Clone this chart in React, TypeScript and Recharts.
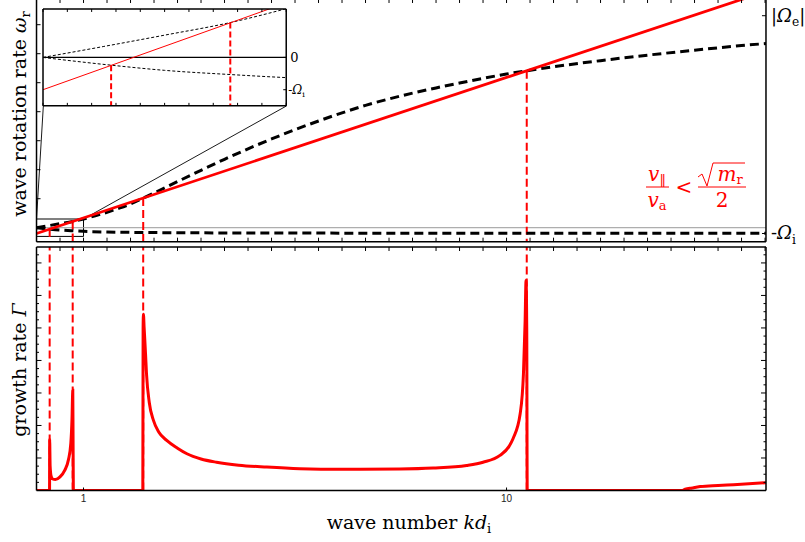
import React from 'react';
import { LineChart, Line, XAxis, YAxis, ReferenceLine, ReferenceArea } from 'recharts';

// upper (electron) branch, omega_r / Omega_i vs k d_i
const whistlerK = [0, 0.25, 0.5, 0.77, 1, 1.25, 1.5, 1.75, 2, 2.27, 2.5, 3, 3.5, 4, 4.5, 5, 5.5, 6, 6.5, 7, 7.5, 8, 8.5, 9, 9.5, 10, 10.43, 11, 12, 13, 14, 15, 15.52];
const whistlerOmega = [0, 0.34, 0.69, 1.08, 1.51, 2.05, 2.66, 3.34, 4.1, 5.11, 5.98, 7.95, 9.9, 11.8, 13.6, 15.3, 16.9, 18.4, 19.8, 21.1, 22.2, 23.2, 24.1, 24.95, 25.75, 26.5, 27.06, 27.75, 28.8, 29.75, 30.6, 31.4, 31.75];

// lower (ion cyclotron) branch
const ionK = [0, 0.1, 0.28, 0.5, 0.77, 1, 1.5, 2, 3, 4, 6, 9, 12, 15.52];
const ionOmega = [0, -0.09, -0.24, -0.4, -0.53, -0.625, -0.74, -0.8, -0.87, -0.9, -0.93, -0.95, -0.96, -0.97];

// beam line (red)
const beamK = [0, 15.52];
const beamOmega = [-1, 40.75];

// resonances (red dashed verticals)
const resonanceK = [0.28, 0.77, 2.27, 10.43];
const resonanceOmega = [-0.24, 1.08, 5.11, 27.06];

// growth rate
const growthK = [0, 0.278, 0.28, 0.29, 0.31, 0.35, 0.4, 0.5, 0.6, 0.68, 0.73, 0.755, 0.772, 0.778, 0.785, 2.262, 2.268, 2.275, 2.29, 2.32, 2.34, 2.4, 2.49, 2.6, 2.77, 3.0, 3.2, 3.5, 3.83, 4.3, 4.9, 5.6, 6.5, 7.73, 8.44, 9.15, 9.5, 9.86, 10.05, 10.14, 10.29, 10.36, 10.395, 10.415, 10.43, 10.44, 13.73, 13.8, 13.95, 14.12, 14.5, 14.83, 15.52];
const growthGamma = [0, 0, 1.57, 0.75, 0.45, 0.35, 0.34, 0.42, 0.62, 0.95, 1.45, 2.2, 3.08, 1.6, 0, 0, 5.0, 5.42, 5.0, 4.2, 3.6, 2.7, 2.15, 1.8, 1.54, 1.3, 1.13, 0.97, 0.87, 0.78, 0.72, 0.67, 0.65, 0.66, 0.69, 0.77, 0.87, 1.08, 1.35, 1.6, 2.36, 3.6, 5.2, 6.46, 5.0, 0, 0, 0.04, 0.08, 0.12, 0.155, 0.18, 0.24];

// tick values / labels
const kLabelTicks = [1, 10];
const kLabels = ['1', '10'];
const omegaLeftTicks = [0, 5, 10, 15, 20, 25, 30, 35];
const OMEGA_E = 36.55;
const omegaRightTicks = [OMEGA_E, -1];
const omegaRightLabels = [['|', 'Ω', 'e', '|'], ['-', 'Ω', 'i', '']];
const insetRightTicks = [0, -1];

const K_MAX = 15.52;
const W_MIN = -2.41;
const W_MAX = 39.43;
const G_MAX = 7.49;

const halfTicks = Array.from({ length: 32 }, (_, i) => i * 0.5);
const tenthTicks = Array.from({ length: 11 }, (_, i) => i * 0.1);
const quarterTicks = Array.from({ length: 29 }, (_, i) => (i + 1) * 0.25);

// layout (px)
const FRAME_L = 36.5;
const FRAME_R = 766;
const TOP_Y0 = -1;
const TOP_Y1 = 241.7;
const BOT_Y0 = 246.5;
const BOT_Y1 = 490;

// inset box, in the top panel's data units
const INSET = { k0: 0.145, k1: 5.32, w0: 21.0, w1: 37.7 };

const pxK = (k: number) => FRAME_L + (k / K_MAX) * (FRAME_R - FRAME_L);
const pyW = (w: number) => TOP_Y0 + ((W_MAX - w) / (W_MAX - W_MIN)) * (TOP_Y1 - TOP_Y0);

const SERIF = '"DejaVu Serif", serif';
const RED = '#ff0000';

const toPoints = (ks: number[], vs: number[]) => ks.map((k, i) => ({ k, v: vs[i] }));
const whistler = toPoints(whistlerK, whistlerOmega);
const ion = toPoints(ionK, ionOmega);
const beam = toPoints(beamK, beamOmega);
const growth = toPoints(growthK, growthGamma);

const frameLine = { stroke: '#000', strokeWidth: 1.5 };

// axes get a 1px band (a zero size axis is not drawn), margins take it back
const A = 1;

type Side = 'top' | 'bottom' | 'left' | 'right';

// frame ticks point into the plot; tickSize/tickMargin are 0 so (x, y) sit on the frame
const makeTick = (side: Side, len: (v: number) => number, label?: (v: number, x: number, y: number) => React.ReactNode) =>
  (props: any) => {
    const { x, y, payload } = props;
    const l = len(payload.value);
    const x2 = side === 'left' ? x + l : side === 'right' ? x - l : x;
    const y2 = side === 'top' ? y + l : side === 'bottom' ? y - l : y;
    return (
      <g>
        <line x1={x} y1={y} x2={x2} y2={y2} stroke="#000" strokeWidth={1} />
        {label ? label(payload.value, x, y) : null}
      </g>
    );
  };

const OmegaLabel = ({ x, y, parts, size }: any) => (
  <text x={x} y={y} dy={size * 0.33} fontFamily={SERIF} fontSize={size} fill="#000">
    <tspan>{parts[0]}</tspan>
    <tspan fontStyle="italic">{parts[1]}</tspan>
    <tspan fontSize={size * 0.68} dy={size * 0.25}>{parts[2]}</tspan>
    <tspan dy={-size * 0.25}>{parts[3]}</tspan>
  </text>
);

const fixed = (n: number) => () => n;
const majorMinor = (v: number) => (Math.abs(v - Math.round(v)) < 1e-6 ? 5 : 2.5);

const tickTopHalf = makeTick('top', fixed(4));
const tickBottomHalf = makeTick('bottom', fixed(4));
const tickLeftOmega = makeTick('left', fixed(4));
const tickRightOmega = makeTick('right', fixed(4), (v, x, y) => (
  <OmegaLabel x={x + 5} y={y} parts={omegaRightLabels[omegaRightTicks.indexOf(v)]} size={18} />
));
const tickInsetTop = makeTick('top', fixed(3));
const tickInsetBottom = makeTick('bottom', fixed(3));
const tickInsetRight = makeTick('right', fixed(3), (v, x, y) =>
  v === 0 ? (
    <text x={x + 4} y={y} dy={4.5} fontFamily={SERIF} fontSize={13} fill="#000">0</text>
  ) : (
    <OmegaLabel x={x + 2} y={y} parts={['-', 'Ω', 'i', '']} size={12} />
  ));
const tickBottomK = makeTick('bottom', fixed(3), (v, x, y) => (
  <text x={x} y={y + 11} textAnchor="middle" fontFamily='"Liberation Sans", sans-serif' fontSize={10} fill="#222">
    {kLabels[kLabelTicks.indexOf(v)]}
  </text>
));
const tickLeftGamma = makeTick('left', majorMinor);
const tickRightGamma = makeTick('right', majorMinor);

const axisCommon = { interval: 0 as const, tickSize: 0, tickMargin: 0, tickLine: false, axisLine: frameLine, allowDataOverflow: true };

const TopPanel = () => {
  const h = 10 + (TOP_Y1 - TOP_Y0) + 15;
  return (
    <div style={{ position: 'absolute', left: 0, top: TOP_Y0 - 10 }}>
      <LineChart width={805} height={h}
        margin={{ top: 10 - A, right: 805 - FRAME_R - A, bottom: 15 - A, left: FRAME_L - A }}>
        <XAxis type="number" dataKey="k" domain={[0, K_MAX]} ticks={halfTicks} tick={tickBottomHalf} height={A} {...axisCommon} />
        <XAxis xAxisId="top" orientation="top" type="number" dataKey="k" domain={[0, K_MAX]} ticks={halfTicks}
          tick={tickTopHalf} height={A} {...axisCommon} />
        <YAxis type="number" domain={[W_MIN, W_MAX]} ticks={omegaLeftTicks} tick={tickLeftOmega} width={A} {...axisCommon} />
        <YAxis yAxisId="right" orientation="right" type="number" domain={[W_MIN, W_MAX]} ticks={omegaRightTicks}
          tick={tickRightOmega} width={A} {...axisCommon} />

        <ReferenceLine y={0} stroke="#9a9a9a" strokeWidth={1} />
        <ReferenceArea x1={0} x2={1} y1={-1.5} y2={1.5} fill="none" stroke="#000" strokeWidth={1} />
        <ReferenceLine segment={[{ x: 0, y: 1.5 }, { x: INSET.k0, y: INSET.w0 }]} stroke="#000" strokeWidth={0.9} />
        <ReferenceLine segment={[{ x: 1, y: 1.5 }, { x: INSET.k1, y: INSET.w0 }]} stroke="#000" strokeWidth={0.9} />
        {resonanceK.map((k, i) => (
          <ReferenceLine key={k} segment={[{ x: k, y: resonanceOmega[i] }, { x: k, y: W_MIN }]}
            stroke={RED} strokeWidth={2} strokeDasharray="8 4" />
        ))}

        <Line data={whistler} dataKey="v" type="monotone" stroke="#000" strokeWidth={3} strokeDasharray="9 5"
          dot={false} activeDot={false} isAnimationActive={false} />
        <Line data={ion} dataKey="v" type="monotone" stroke="#000" strokeWidth={3} strokeDasharray="9 5"
          dot={false} activeDot={false} isAnimationActive={false} />
        <Line data={beam} dataKey="v" type="linear" stroke={RED} strokeWidth={2.8}
          dot={false} activeDot={false} isAnimationActive={false} />
      </LineChart>
    </div>
  );
};

const InsetPanel = () => {
  const left = pxK(INSET.k0);
  const right = pxK(INSET.k1);
  const top = pyW(INSET.w1);
  const bottom = pyW(INSET.w0);
  const insetRes = resonanceK.map((k, i) => ({ k, w: resonanceOmega[i] })).filter((r) => r.k <= 1);
  return (
    <div style={{ position: 'absolute', left: left - 6, top: top - 6 }}>
      <LineChart width={right - left + 40} height={bottom - top + 12}
        margin={{ top: 6 - A, right: 34 - A, bottom: 6 - A, left: 6 - A }}>
        <XAxis type="number" dataKey="k" domain={[0, 1]} ticks={tenthTicks} tick={tickInsetBottom} height={A} {...axisCommon} />
        <XAxis xAxisId="top" orientation="top" type="number" dataKey="k" domain={[0, 1]} ticks={tenthTicks}
          tick={tickInsetTop} height={A} {...axisCommon} />
        <YAxis type="number" domain={[-1.5, 1.5]} ticks={[0]} tick={false} width={A} {...axisCommon} />
        <YAxis yAxisId="right" orientation="right" type="number" domain={[-1.5, 1.5]} ticks={insetRightTicks}
          tick={tickInsetRight} width={A} {...axisCommon} />

        <ReferenceArea x1={0} x2={1} y1={-1.5} y2={1.5} fill="#fff" fillOpacity={1} stroke="none" />
        <ReferenceLine y={0} stroke="#000" strokeWidth={1.3} />
        {insetRes.map((r) => (
          <ReferenceLine key={r.k} segment={[{ x: r.k, y: r.w }, { x: r.k, y: -1.5 }]}
            stroke={RED} strokeWidth={2} strokeDasharray="6 3" />
        ))}

        <Line data={whistler} dataKey="v" type="monotone" stroke="#000" strokeWidth={1} strokeDasharray="3 2"
          dot={false} activeDot={false} isAnimationActive={false} />
        <Line data={ion} dataKey="v" type="monotone" stroke="#000" strokeWidth={1} strokeDasharray="3 2"
          dot={false} activeDot={false} isAnimationActive={false} />
        <Line data={beam} dataKey="v" type="linear" stroke={RED} strokeWidth={1}
          dot={false} activeDot={false} isAnimationActive={false} />
      </LineChart>
    </div>
  );
};

const BottomPanel = () => {
  const h = 10 + (BOT_Y1 - BOT_Y0) + 30;
  return (
    <div style={{ position: 'absolute', left: 0, top: BOT_Y0 - 10 }}>
      <LineChart width={805} height={h}
        margin={{ top: 10 - A, right: 805 - FRAME_R - A, bottom: 30 - A, left: FRAME_L - A }}>
        <XAxis type="number" dataKey="k" domain={[0, K_MAX]} ticks={kLabelTicks} tick={tickBottomK} height={A} {...axisCommon} />
        <XAxis xAxisId="top" orientation="top" type="number" dataKey="k" domain={[0, K_MAX]} ticks={halfTicks}
          tick={tickTopHalf} height={A} {...axisCommon} />
        <YAxis type="number" domain={[0, G_MAX]} ticks={quarterTicks} tick={tickLeftGamma} width={A} {...axisCommon} />
        <YAxis yAxisId="r" orientation="right" type="number" domain={[0, G_MAX]} ticks={quarterTicks}
          tick={tickRightGamma} width={A} {...axisCommon} />

        {resonanceK.map((k) => (
          <ReferenceLine key={k} x={k} stroke={RED} strokeWidth={2} strokeDasharray="8 4" />
        ))}

        <Line data={growth} dataKey="v" type="monotone" stroke={RED} strokeWidth={3}
          dot={false} activeDot={false} isAnimationActive={false} />
      </LineChart>
    </div>
  );
};

const Annotations = () => (
  <svg width={805} height={542} style={{ position: 'absolute', left: 0, top: 0, pointerEvents: 'none' }}>
    <text transform="translate(26,114) rotate(-90)" textAnchor="middle" fontFamily={SERIF} fontSize={19} fill="#000">
      wave rotation rate <tspan fontStyle="italic">ω</tspan><tspan fontSize={13} dy={4}>r</tspan>
    </text>
    <text transform="translate(26,370) rotate(-90)" textAnchor="middle" fontFamily={SERIF} fontSize={19} fill="#000">
      growth rate <tspan fontStyle="italic">Γ</tspan>
    </text>
    <text x={409} y={529} textAnchor="middle" fontFamily={SERIF} fontSize={19} fill="#000">
      wave number <tspan fontStyle="italic">kd</tspan><tspan fontSize={13} dy={4}>i</tspan>
    </text>

    <g fill={RED} fontFamily={SERIF}>
      <text x={657} y={181} textAnchor="middle" fontSize={20}>
        <tspan fontStyle="italic">v</tspan><tspan fontSize={13} dy={3}>‖</tspan>
      </text>
      <line x1={646} x2={669} y1={187} y2={187} stroke={RED} strokeWidth={1} />
      <text x={657} y={207} textAnchor="middle" fontSize={20}>
        <tspan fontStyle="italic">v</tspan><tspan fontSize={13} dy={3}>a</tspan>
      </text>
      <text x={684} y={194} textAnchor="middle" fontSize={20}>&lt;</text>
      <path d="M698,177 L702,174 L707,186 L713,163 L745,163" fill="none" stroke={RED} strokeWidth={1} />
      <text x={730} y={181} textAnchor="middle" fontSize={20}>
        <tspan fontStyle="italic">m</tspan><tspan fontSize={13} dy={3}>r</tspan>
      </text>
      <line x1={698} x2={746} y1={187} y2={187} stroke={RED} strokeWidth={1} />
      <text x={722} y={207} textAnchor="middle" fontSize={20}>2</text>
    </g>
  </svg>
);

export default function App() {
  return (
    <div style={{ position: 'absolute', left: 0, top: 0, width: 805, height: 542, background: '#fff', overflow: 'hidden' }}>
      <TopPanel />
      <BottomPanel />
      <InsetPanel />
      <Annotations />
    </div>
  );
}
